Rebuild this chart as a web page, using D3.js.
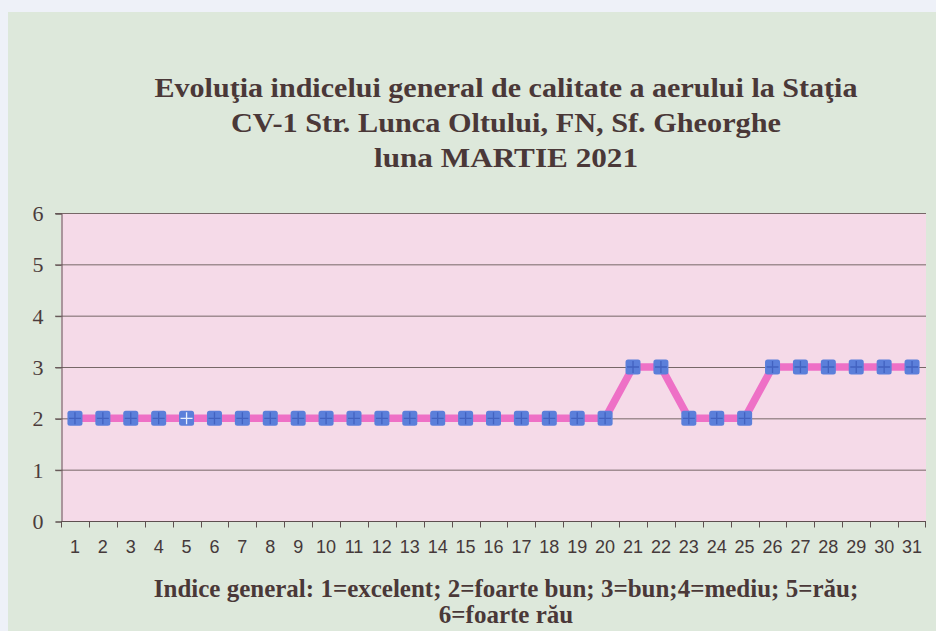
<!DOCTYPE html>
<html>
<head>
<meta charset="utf-8">
<script src="https://cdn.jsdelivr.net/npm/d3@7"></script>
<style>
  body { margin: 0; background: #eef1f8; }
  .ylab text { font-family: 'Liberation Serif', 'Times New Roman', serif; font-size: 22px; }
</style>
</head>
<body>
<svg width="936" height="631"></svg>
<script>
var days = d3.range(1, 32);
var indice = [2, 2, 2, 2, 2, 2, 2, 2, 2, 2,
              2, 2, 2, 2, 2, 2, 2, 2, 2, 2,
              3, 3, 2, 2, 2, 3, 3, 3, 3, 3, 3];
var yTicks = [0, 1, 2, 3, 4, 5, 6];
var titleLines = ["Evoluţia indicelui general de calitate a aerului la Staţia",
                  "CV-1 Str. Lunca Oltului, FN, Sf. Gheorghe",
                  "luna MARTIE 2021"];
var titleWidths = [703, 550, 264];
var noteLines = ["Indice general: 1=excelent; 2=foarte bun; 3=bun;4=mediu; 5=rău;",
                 "6=foarte rău"];

var svg = d3.select("svg");

// chart background
svg.append("rect")
    .attr("x", 8).attr("y", 12)
    .attr("width", 928).attr("height", 619)
    .attr("fill", "#dde8db");

var plotLeft = 61, plotRight = 926, plotTop = 213, plotBottom = 521;

var x = d3.scaleBand()
    .domain(days)
    .range([plotLeft, plotRight]);

var y = d3.scaleLinear()
    .domain([0, 6])
    .range([plotBottom, plotTop]);

svg.append("rect")
    .attr("x", plotLeft).attr("y", plotTop)
    .attr("width", plotRight - plotLeft).attr("height", plotBottom - plotTop)
    .attr("fill", "#f5dae8");

// gridlines
svg.append("g")
    .selectAll("line")
    .data(yTicks.slice(1))
    .enter().append("line")
    .attr("x1", plotLeft - 6).attr("x2", plotRight)
    .attr("y1", function(d) { return y(d) + 0.5; })
    .attr("y2", function(d) { return y(d) + 0.5; })
    .attr("stroke", "#766767")
    .attr("stroke-width", 1);

// y axis
var yAxis = svg.append("g")
    .attr("class", "ylab")
    .attr("transform", "translate(" + (plotLeft + 0.5) + ",0.5)")
    .call(d3.axisLeft(y).tickValues(yTicks).tickSize(6).tickPadding(12).tickFormat(d3.format("d")));
yAxis.selectAll("path, line").attr("stroke", "#5e5050");
yAxis.selectAll("text").attr("fill", "#4c3c3c");

// x axis, ticks on band edges
var xAxis = svg.append("g")
    .attr("transform", "translate(0," + (plotBottom + 0.5) + ")");
xAxis.append("line")
    .attr("x1", plotLeft).attr("x2", plotRight)
    .attr("stroke", "#5e5050");
xAxis.selectAll(".edge")
    .data(days.concat([32]))
    .enter().append("line")
    .attr("class", "edge")
    .attr("x1", function(d) { return d <= 31 ? Math.round(x(d)) + 0.5 : plotRight - 0.5; })
    .attr("x2", function(d) { return d <= 31 ? Math.round(x(d)) + 0.5 : plotRight - 0.5; })
    .attr("y1", 0).attr("y2", 6)
    .attr("stroke", "#5e5050");
xAxis.selectAll("text")
    .data(days)
    .enter().append("text")
    .attr("x", function(d) { return x(d) + x.bandwidth() / 2; })
    .attr("y", 31)
    .attr("text-anchor", "middle")
    .attr("fill", "#45393a")
    .style("font-family", "'Liberation Sans', Arial, sans-serif")
    .style("font-size", "18px")
    .text(function(d) { return d; });

// line
var line = d3.line()
    .x(function(d, i) { return x(days[i]) + x.bandwidth() / 2; })
    .y(function(d) { return y(d); });

svg.append("path")
    .datum(indice)
    .attr("d", line)
    .attr("fill", "none")
    .attr("stroke", "#ee70c6")
    .attr("stroke-width", 7.5);

// markers: blue square with a cross
var m = svg.append("g")
    .selectAll("g")
    .data(indice)
    .enter().append("g")
    .attr("transform", function(d, i) {
        return "translate(" + (x(days[i]) + x.bandwidth() / 2) + "," + y(d) + ")";
    });
m.append("rect")
    .attr("x", -7.5).attr("y", -7.5)
    .attr("width", 15).attr("height", 15)
    .attr("rx", 2.5)
    .attr("fill", "#5b7fda");
m.append("path")
    .attr("d", "M-6,0H6M0,-6V6")
    .attr("stroke", function(d, i) { return days[i] == 5 ? "#e8eefc" : "#4262c0"; })
    .attr("stroke-width", 1.3);

// title
svg.append("g")
    .selectAll("text")
    .data(titleLines)
    .enter().append("text")
    .attr("x", 506)
    .attr("y", function(d, i) { return 97 + i * 35; })
    .attr("text-anchor", "middle")
    .attr("textLength", function(d, i) { return titleWidths[i]; })
    .attr("lengthAdjust", "spacingAndGlyphs")
    .attr("fill", "#4a3838")
    .style("font-family", "'Liberation Serif', 'Times New Roman', serif")
    .style("font-weight", "bold")
    .style("font-size", "27px")
    .text(function(d) { return d; });

// note under the axis
svg.append("g")
    .selectAll("text")
    .data(noteLines)
    .enter().append("text")
    .attr("x", 506)
    .attr("y", function(d, i) { return 597 + i * 26; })
    .attr("text-anchor", "middle")
    .attr("fill", "#4a3838")
    .style("font-family", "'Liberation Serif', 'Times New Roman', serif")
    .style("font-weight", "bold")
    .style("font-size", "25px")
    .text(function(d) { return d; });
</script>
</body>
</html>
